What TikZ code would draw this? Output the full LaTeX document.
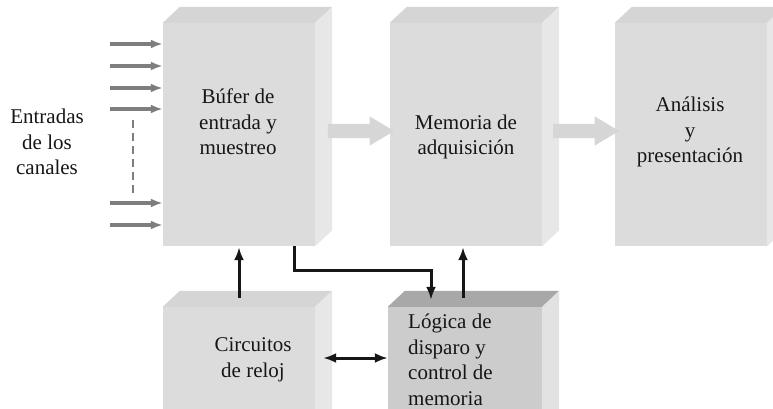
\documentclass[tikz,border=0pt]{standalone}
\usepackage{fontspec}
\setmainfont{Liberation Serif}
\usetikzlibrary{arrows.meta, shapes.arrows, positioning}
\definecolor{cajafrente}{HTML}{DCDCDC}
\definecolor{cajatapa}{HTML}{D5D5D5}
\definecolor{cajalado}{HTML}{E7E7E7}
\definecolor{logfrente}{HTML}{CCCCCC}
\definecolor{logtapa}{HTML}{A8A8A8}
\definecolor{loglado}{HTML}{E2E2E2}
\definecolor{grisflecha}{HTML}{7E7E7E}
\definecolor{flechabloque}{HTML}{D6D6D6}
\definecolor{tinta}{HTML}{161616}

% tapa y lado de un bloque en relieve
\newcommand{\caja}[3]{%
  \fill[#2] (#1.north west) -- ([shift={(17pt,16pt)}]#1.north west) -- ([shift={(17pt,16pt)}]#1.north east) -- (#1.north east) -- cycle;
  \fill[#3] (#1.north east) -- ([shift={(17pt,16pt)}]#1.north east) -- ([shift={(17pt,16pt)}]#1.south east) -- (#1.south east) -- cycle;
}

\begin{document}
\begin{tikzpicture}[x=1pt, y=-1pt,
  frente/.style={fill=cajafrente, inner sep=0pt, minimum width=152pt, minimum height=223pt},
  texto/.style={font=\fontsize{21}{25.5}\selectfont, align=center, text=tinta, inner sep=0pt},
  bloque/.style={single arrow, fill=flechabloque, inner sep=7pt, single arrow head extend=7.5pt,
    single arrow tip angle=62, minimum height=66pt},
  entrada/.style={draw=grisflecha, line width=3.4pt, -{Latex[length=12pt,width=9pt]}},
  conector/.style={draw=tinta, line width=3pt, -{Latex[length=13pt,width=10pt]}},
]
\useasboundingbox (0,0) rectangle (773,409);
\clip (0,0) rectangle (773,409);

% bloques superiores
\node[frente] (buf) at (239,134.5) {};
\node[frente] (mem) at (466,134.5) {};
\node[frente] (ana) at (691,134.5) {};
\caja{buf}{cajatapa}{cajalado}
\caja{mem}{cajatapa}{cajalado}
\caja{ana}{cajatapa}{cajalado}

% bloques inferiores
\node[frente, minimum height=130pt] (rel) at (239,372) {};
\node[frente, fill=logfrente, minimum width=154pt, minimum height=130pt] (log) at (465,372) {};
\caja{rel}{cajatapa}{cajalado}
\caja{log}{logtapa}{loglado}

% flechas anchas
\node[bloque] (f1) at (355,131) {};
\node[bloque] (f2) at (580,131) {};

% textos
\node[texto] (t-ent) at (47,142) {Entradas\\de los\\canales};
\node[texto] (t-buf) at (238,122) {Búfer de\\entrada y\\muestreo};
\node[texto] (t-mem) at (466,137) {Memoria de\\adquisición};
\node[texto] (t-ana) at (690,132) {Análisis\\y\\presentación};
\node[texto] (t-rel) at (253,360) {Circuitos\\de reloj};
\node[texto, align=left, anchor=west] (t-log) at (408,360) {Lógica de\\disparo y\\control de\\memoria};

% entradas de los canales
\foreach \y in {44,66,88,109,203,225}
  \draw[entrada] (110,\y) -- (buf.west |- 0,\y);
\draw[grisflecha, line width=1.5pt, dash pattern=on 8pt off 5pt] (133,120) -- (133,193);

% conexiones
\draw[conector] ([yshift=9pt]rel.north) -- ([yshift=-1pt]buf.south);
\draw[conector] ([xshift=55pt]buf.south) -- ++(0,24) -| ([xshift=-34pt,yshift=7pt]log.north);
\draw[conector] ([xshift=-2pt,yshift=9pt]log.north) -- ([xshift=-3pt,yshift=-1pt]mem.south);
\draw[conector, {Latex[length=13pt,width=10pt]}-{Latex[length=13pt,width=10pt]}]
  ([xshift=8pt,yshift=14pt]rel.east) -- ([yshift=14pt]log.west);
\end{tikzpicture}
\end{document}
